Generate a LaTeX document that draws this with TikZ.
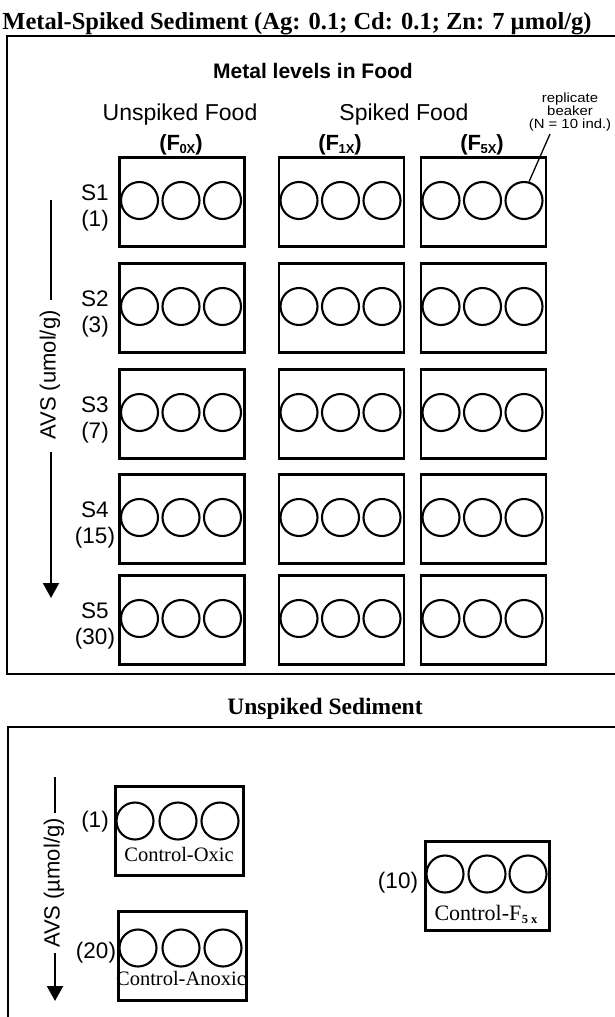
\documentclass[tikz,border=0pt]{standalone}
\usepackage{fontspec}
\setmainfont{Liberation Serif}
\setsansfont{Liberation Sans}
\usetikzlibrary{arrows.meta}
\newcommand{\setfs}[1]{\fontsize{#1}{#1}\selectfont}
\newcommand{\subx}[1]{\kern-0.5pt\raisebox{-3.5pt}{\setfs{13}#1}}
\newcommand{\wide}[1]{\scalebox{1.12}[1]{#1}}

\begin{document}
\begin{tikzpicture}[x=1pt,y=-1pt,
  frame/.style={line width=1.6pt},
  beaker/.style={draw, line width=2.8pt, rectangle, minimum width=125pt,
    minimum height=89pt, inner sep=0pt, anchor=north west},
  ctlbox/.style={beaker, minimum width=128pt},
  cup/.style={draw, circle, line width=2.1pt, minimum size=37pt, inner sep=0pt},
  lab/.style={font=\sffamily\setfs{22.5}, inner sep=0pt, anchor=base},
  head/.style={font=\sffamily\setfs{23}, inner sep=0pt, anchor=base},
  fhead/.style={font=\sffamily\bfseries\setfs{22}, inner sep=0pt, anchor=base},
  ctl/.style={font=\setfs{20.5}, inner sep=0pt, anchor=base},
  axis/.style={line width=2.2pt},
  axisarrow/.style={line width=2.2pt, -{Triangle[length=15pt,width=16pt]}},
  avs/.style={font=\sffamily\setfs{22}, inner sep=0pt, rotate=90}]

\useasboundingbox (0,0) rectangle (614,1017);

% ---------- metal-spiked sediment ----------
\node[font=\bfseries\setfs{24.5}, inner sep=0pt, anchor=base] (title) at (297,29)
  {Metal-Spiked Sediment (Ag: 0.1; Cd: 0.1; Zn: 7 \textmu mol/g)};
\draw[frame] (640,36) -- (7,36) -- (7,674) -- (640,674);

\node[font=\sffamily\bfseries\setfs{21}, inner sep=0pt, anchor=base] (mlf) at (313,78)
  {Metal levels in Food};
\node[head] (unsp) at (180,120) {Unspiked Food};
\node[head] (sp) at (404,120) {Spiked Food};
\node[fhead] (f0) at (181,150) {(F\subx{0X})};
\node[fhead] (f1) at (340,150) {(F\subx{1X})};
\node[fhead] (f5) at (482,150) {(F\subx{5X})};

% the base anchor of a multi-line node sits on its last line
\node[font=\sffamily\fontsize{13.3}{12.8}\selectfont, inner sep=0pt, align=center,
  anchor=base] (rep) at (570,128)
  {\wide{replicate}\\\wide{beaker}\\\wide{(N = 10 ind.)}};

\foreach \r/\top/\v in {1/156/1, 2/262/3, 3/368/7, 4/473/15, 5/574/30} {
  \node[lab] (s\r) at (95,\top+44) {S\r};
  \node[lab] (v\r) at (95,\top+70) {(\v)};
  \foreach \c/\lft in {1/118, 2/277.5, 3/419.5} {
    \node[beaker] (b\r\c) at (\lft,\top) {};
    \foreach \k/\dx in {1/21.5, 2/63, 3/104.5}
      \node[cup] (c\r\c\k) at (\lft+\dx,\top+44.5) {};
  }
}

\coordinate (lead) at (550,134);
\draw[line width=1.3pt] (lead) -- (c133.75);

% AVS axis, metal-spiked part
\coordinate (a1) at (51,200);
\coordinate (a2) at (51,300);
\coordinate (a3) at (51,452);
\coordinate (a4) at (51,598);
\node[avs] (avs1) at (50,375) {AVS (umol/g)};
\draw[axis] (a1) -- (a2);
\draw[axisarrow] (a3) -- (a4);

% ---------- unspiked sediment ----------
\node[font=\bfseries\setfs{23.5}, inner sep=0pt, anchor=base] (title2) at (325,714)
  {Unspiked Sediment};
\draw[frame] (8,1040) -- (8,727) -- (640,727);

\node[ctlbox] (ox) at (114,785) {};
\foreach \k/\dx in {1/21, 2/64, 3/106}
  \node[cup] (ox\k) at (114+\dx,821) {};
\node[ctl] (oxl) at (179,861) {Control-Oxic};
\node[lab] (oxv) at (95,827) {(1)};

\node[ctlbox] (an) at (117,910) {};
\foreach \k/\dx in {1/21, 2/64, 3/106}
  \node[cup] (an\k) at (117+\dx,948) {};
\node[ctl] (anl) at (181,985) {Control-Anoxic};
\node[lab] (anv) at (96,958) {(20)};

\node[beaker, minimum width=124pt] (fx) at (424,840) {};
\foreach \k/\dx in {1/21, 2/63, 3/104}
  \node[cup] (fx\k) at (424+\dx,874) {};
\node[ctl, font=\setfs{22}] (fxl) at (486,920)
  {Control-F\kern0.5pt\raisebox{-3pt}{\setfs{12.5}\bfseries 5 x}};
\node[lab] (fxv) at (398,888) {(10)};

% AVS axis, unspiked part
\coordinate (b1) at (55,777);
\coordinate (b2) at (55,813);
\coordinate (b3) at (55,953);
\coordinate (b4) at (55,1001);
\node[avs] (avs2) at (54,883) {AVS (\textmu mol/g)};
\draw[axis] (b1) -- (b2);
\draw[axisarrow] (b3) -- (b4);
\end{tikzpicture}
\end{document}
